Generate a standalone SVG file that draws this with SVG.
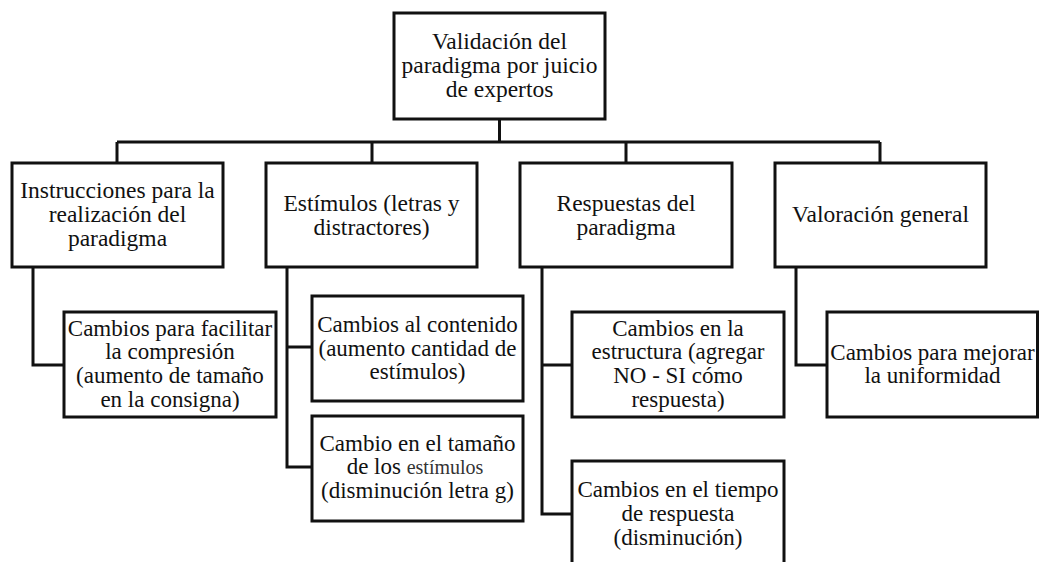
<svg xmlns="http://www.w3.org/2000/svg" width="1039" height="562" viewBox="0 0 1039 562">
<style>
.box{fill:#fff;stroke:#111;stroke-width:3}
.ln{fill:none;stroke:#111;stroke-width:3}
text{font-family:"Liberation Serif","Times New Roman",serif;fill:#111;text-anchor:middle}
.t1{font-size:23.5px}
.t2{font-size:23px}
.sm{font-size:20px;fill:#333}
</style>
<rect width="1039" height="562" fill="#fff"/>
<g id="connectors">
<path class="ln" d="M499.5 119V142M117 142H880M117 142V163M372 142V163M626 142V163M880 142V163"/>
<path class="ln" d="M33 267V365H64"/>
<path class="ln" d="M287 267V467H312M287 347H312"/>
<path class="ln" d="M542 267V514H572M542 365H572"/>
<path class="ln" d="M796 267V365H827"/>
</g>
<g id="root">
<rect class="box" x="394" y="13" width="211" height="106"/>
<text class="t1" x="499.5" y="49">Validación del</text>
<text class="t1" x="499.5" y="73">paradigma por juicio</text>
<text class="t1" x="499.5" y="97">de expertos</text>
</g>
<g id="instrucciones">
<rect class="box" x="12" y="163" width="211" height="104"/>
<text class="t1" x="117.5" y="198">Instrucciones para la</text>
<text class="t1" x="117.5" y="222">realización del</text>
<text class="t1" x="117.5" y="246">paradigma</text>
</g>
<g id="estimulos">
<rect class="box" x="266" y="163" width="211" height="104"/>
<text class="t1" x="371.5" y="211">Estímulos (letras y</text>
<text class="t1" x="371.5" y="235">distractores)</text>
</g>
<g id="respuestas">
<rect class="box" x="520" y="163" width="212" height="104"/>
<text class="t1" x="626" y="211">Respuestas del</text>
<text class="t1" x="626" y="235">paradigma</text>
</g>
<g id="valoracion">
<rect class="box" x="775" y="163" width="211" height="104"/>
<text class="t1" x="880.5" y="222">Valoración general</text>
</g>
<g id="facilitar">
<rect class="box" x="64" y="312" width="212" height="105"/>
<text class="t2" x="170" y="336">Cambios para facilitar</text>
<text class="t2" x="170" y="359">la compresión</text>
<text class="t2" x="170" y="383">(aumento de tamaño</text>
<text class="t2" x="170" y="407">en la consigna)</text>
</g>
<g id="contenido">
<rect class="box" x="312" y="296" width="211" height="105"/>
<text class="t2" x="417.5" y="332">Cambios al contenido</text>
<text class="t2" x="417.5" y="356">(aumento cantidad de</text>
<text class="t2" x="417.5" y="379">estímulos)</text>
</g>
<g id="tamano">
<rect class="box" x="312" y="416" width="211" height="105"/>
<text class="t2" x="417.5" y="451">Cambio en el tamaño</text>
<text x="415" y="474"><tspan class="t2">de los </tspan><tspan class="sm">estímulos</tspan></text>
<text class="t2" x="417.5" y="498">(disminución letra g)</text>
</g>
<g id="estructura">
<rect class="box" x="572" y="312" width="212" height="105"/>
<text class="t2" x="678" y="336">Cambios en la</text>
<text class="t2" x="678" y="359">estructura (agregar</text>
<text class="t2" x="678" y="383">NO - SI cómo</text>
<text class="t2" x="678" y="407">respuesta)</text>
</g>
<g id="tiempo">
<rect class="box" x="572" y="461" width="212" height="115"/>
<text class="t2" x="678" y="497">Cambios en el tiempo</text>
<text class="t2" x="678" y="521">de respuesta</text>
<text class="t2" x="678" y="545">(disminución)</text>
</g>
<g id="uniformidad">
<rect class="box" x="827" y="312" width="210.5" height="105"/>
<text class="t2" x="932.5" y="360">Cambios para mejorar</text>
<text class="t2" x="932.5" y="383">la uniformidad</text>
</g>
</svg>
